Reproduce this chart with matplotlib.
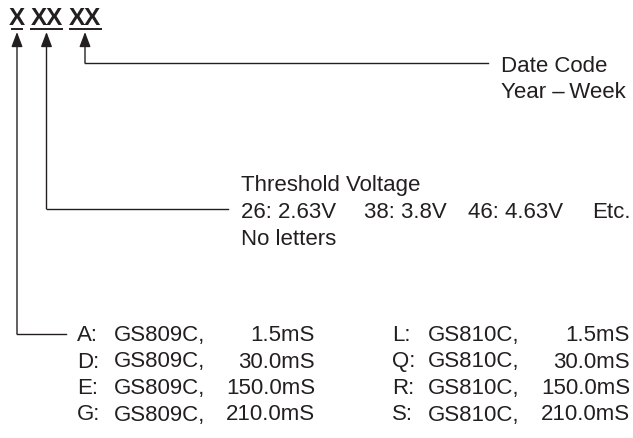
import matplotlib.pyplot as plt

# part number fields and their explanations
fields = ['X', 'XX', 'XX']
date_lines = ['Date Code', 'Year \u2013\u2009Week']
thresh_title = 'Threshold Voltage'
thresh_codes = ['26', '38', '46']
thresh_volts = ['2.63V', '3.8V', '4.63V']
thresh_note = 'No letters'
codes_left = ['A', 'D', 'E', 'G']
codes_right = ['L', 'Q', 'R', 'S']
part_left = 'GS809C'
part_right = 'GS810C'
delays = ['1.5mS', '30.0mS', '150.0mS', '210.0mS']

plt.rcParams['font.family'] = ['Liberation Sans', 'DejaVu Sans']
ink = '#231f20'
fs = 16

fig = plt.figure(figsize=(6.33, 4.38), dpi=100)
ax = fig.add_axes([0, 0, 1, 1])
ax.set_xlim(0, 633)
ax.set_ylim(438, 0)
ax.axis('off')

# header "X XX XX" with underlines
arrow_x = [17, 46.5, 85]
field_w = [12, 33, 33]
for f, x, w in zip(fields, arrow_x, field_w):
    ax.text(x, 25, f, fontsize=17.5, fontweight='bold', color=ink,
            va='baseline', ha='center')
    ax.plot([x - w / 2, x + w / 2], [28.5, 28.5], color=ink, lw=1.4,
            solid_capstyle='butt')

# leader lines with arrow heads
turn_y = [334, 209, 63]
end_x = [66, 228, 488]
for x, y, ex in zip(arrow_x, turn_y, end_x):
    ax.plot([ex, x], [y, y], color=ink, lw=1)
    ax.annotate('', xy=(x, 32), xytext=(x, y),
                arrowprops=dict(arrowstyle='-|>,head_length=0.45,head_width=0.17',
                                color=ink, lw=1, mutation_scale=20,
                                shrinkA=0, shrinkB=0))

# date code
for i, s in enumerate(date_lines):
    ax.text(501, 72 + i * 26.5, s, fontsize=fs, color=ink, va='baseline')

# threshold voltage
ax.text(241, 191, thresh_title, fontsize=fs, color=ink, va='baseline')
tx = [241, 364, 468]
for x, c, v in zip(tx, thresh_codes, thresh_volts):
    ax.text(x, 218, f'{c}: {v}', fontsize=fs, color=ink, va='baseline')
ax.text(631, 218, 'Etc.', fontsize=fs, color=ink, va='baseline', ha='right')
ax.text(241, 245, thresh_note, fontsize=fs, color=ink, va='baseline')

# delay option table
for i in range(len(delays)):
    y = 341 + i * 26.5
    ax.text(77, y, codes_left[i] + ':', fontsize=fs, color=ink, va='baseline')
    ax.text(114, y, part_left + ',', fontsize=fs, color=ink, va='baseline')
    ax.text(315, y, delays[i], fontsize=fs, color=ink, va='baseline', ha='right')
    ax.text(392, y, codes_right[i] + ':', fontsize=fs, color=ink, va='baseline')
    ax.text(428, y, part_right + ',', fontsize=fs, color=ink, va='baseline')
    ax.text(630, y, delays[i], fontsize=fs, color=ink, va='baseline', ha='right')

fig.savefig('out.png', dpi=100)
